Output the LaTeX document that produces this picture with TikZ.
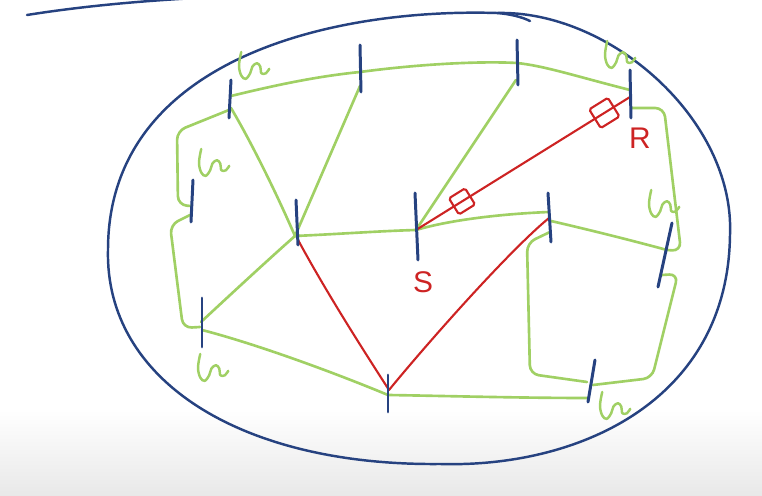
\documentclass[tikz,border=0pt]{standalone}
\usepackage{fontspec}
\setmainfont{Liberation Sans}
\usetikzlibrary{calc}
\definecolor{inkblue}{RGB}{38,66,128}
\definecolor{inkgreen}{RGB}{160,208,100}
\definecolor{inkred}{RGB}{205,35,35}
\begin{document}
\begin{tikzpicture}[x=0.02cm,y=-0.02cm,
  gline/.style={draw=inkgreen, line width=1.5pt, line cap=round, line join=round},
  loopline/.style={gline, rounded corners=5pt},
  rline/.style={draw=inkred, line width=1.2pt, line cap=round},
  tickmark/.style={draw=inkblue, line width=1.7pt, line cap=round},
  outline/.style={draw=inkblue, line width=1.4pt, line cap=round},
  sqa/.style={draw=inkred, line width=1.2pt, minimum size=0.38cm, inner sep=0pt, sloped, rounded corners=1pt},
  sqb/.style={draw=inkred, line width=1.2pt, minimum size=0.44cm, inner sep=0pt, sloped, rounded corners=1pt},
  lbl/.style={text=inkred, font=\fontsize{17}{17}\selectfont},
  gmark/.pic={\draw[gline, line width=1.4pt, scale=1.12] plot[smooth, tension=0.6] coordinates {(2,0) (0,12) (2,21) (6,24) (10,19) (12,13) (16,10) (19,13) (20,19) (24,19) (27,15)};}
]
\useasboundingbox (0,0) rectangle (762,496);
\clip (0,0) rectangle (762,496);
\shade[top color=white, bottom color=black!9] (0,410) rectangle (762,496);

% outer boundary
\draw[outline] (497,13) .. controls (610,10) and (735,120) .. (730,235)
  .. controls (728,400) and (580,468) .. (440,464)
  .. controls (240,466) and (105,380) .. (108,250)
  .. controls (108,60) and (330,8) .. (497,13);
\draw[outline] (497,13) .. controls (510,14) and (522,17) .. (530,21);
\draw[outline] (27,15) .. controls (90,5) and (160,-1) .. (240,-4);

% tick ends
\coordinate (At) at (231,80);  \coordinate (Ab) at (229,118);
\coordinate (Bt) at (360,45);  \coordinate (Bb) at (361,92);
\coordinate (Ct) at (517,40);  \coordinate (Cb) at (518,85);
\coordinate (Rt) at (630,70);  \coordinate (Rb) at (631,118);
\coordinate (Et) at (193,180); \coordinate (Eb) at (191,222);
\coordinate (Ft) at (296,200); \coordinate (Fb) at (298,245);
\coordinate (St) at (415,193); \coordinate (Sb) at (418,260);
\coordinate (Gt) at (548,193); \coordinate (Gb) at (551,242);
\coordinate (Ht) at (672,223); \coordinate (Hb) at (658,287);
\coordinate (It) at (202,298); \coordinate (Ib) at (202,347);
\coordinate (Jt) at (388,375); \coordinate (Jb) at (388,412);
\coordinate (Kt) at (595,360); \coordinate (Kb) at (588,402);

% attachment points
\coordinate (A1) at (231,96);  \coordinate (A2) at (231,108); \coordinate (A3) at (229,110);
\coordinate (B1) at (360,72);  \coordinate (B2) at (360,86);
\coordinate (C1) at (517,63);  \coordinate (C2) at (516,80);
\coordinate (R1) at (630,90);  \coordinate (R2) at (632,108); \coordinate (R3) at (630,97);
\coordinate (E1) at (190,215); \coordinate (E2) at (191,206);
\coordinate (F1) at (295,236); \coordinate (F2) at (297,238);
\coordinate (S1) at (416,230);
\coordinate (G1) at (549,212); \coordinate (G2) at (551,221); \coordinate (G3) at (550,232); \coordinate (G4) at (549,218);
\coordinate (H1) at (667,250); \coordinate (H2) at (662,275);
\coordinate (I1) at (202,330); \coordinate (I2) at (201,322); \coordinate (I3) at (200,327);
\coordinate (J1) at (388,395); \coordinate (J2) at (389,390);
\coordinate (K1) at (593,385); \coordinate (K2) at (587,382); \coordinate (K3) at (588,398);

% green links
\draw[gline] (A1) .. controls (280,84) and (320,76) .. (B1);
\draw[gline] (B1) .. controls (420,64) and (480,61) .. (C1);
\draw[gline] (C1) .. controls (545,66) and (575,76) .. (R1);
\draw[gline] (A2) .. controls (250,140) and (275,190) .. (F1);
\draw[gline] (B2) -- (F1);
\draw[gline] (C2) -- (S1);
\draw[gline] (F1) .. controls (340,234) and (380,231) .. (S1);
\draw[gline] (S1) .. controls (450,220) and (500,214) .. (G1);
\draw[gline] (G2) .. controls (590,230) and (630,240) .. (H1);
\draw[loopline] (R2) -- (664,108) -- (681,251) -- (H1);
\draw[loopline] (H2) -- (678,274) -- (652,378) -- (K1);
\draw[loopline] (G3) -- (527,243) -- (530,374) -- (K2);
\draw[gline] (K3) .. controls (520,398) and (450,396) .. (J1);
\draw[gline] (J1) .. controls (340,375) and (260,345) .. (I1);
\draw[gline] (I2) .. controls (230,295) and (270,258) .. (F1);
\draw[loopline] (I3) -- (183,328) -- (170,225) -- (E1);
\draw[loopline] (A3) -- (177,131) -- (178,205) -- (E2);

% red path
\draw[rline] (S1) -- node[sqa, pos=0.215]{} node[sqb, pos=0.88]{} (R3);
\draw[rline] (F2) .. controls (325,290) and (360,345) .. (J2);
\draw[rline] (J2) .. controls (430,340) and (510,250) .. (G4);

% ticks
\foreach \n in {A,B,C,R,E,F,S,G,H,I,J,K} \draw[tickmark] (\n t) -- (\n b);

% labels
\node[lbl] (Slbl) at (423,282) {S};
\node[lbl] (Rlbl) at (640,138) {R};

% green marks
\pic (g1) at (239,52) {gmark};
\pic (g2) at (605,41) {gmark};
\pic (g3) at (199,149) {gmark};
\pic (g4) at (649,190) {gmark};
\pic (g5) at (198,354) {gmark};
\pic (g6) at (600,392) {gmark};
\end{tikzpicture}
\end{document}
